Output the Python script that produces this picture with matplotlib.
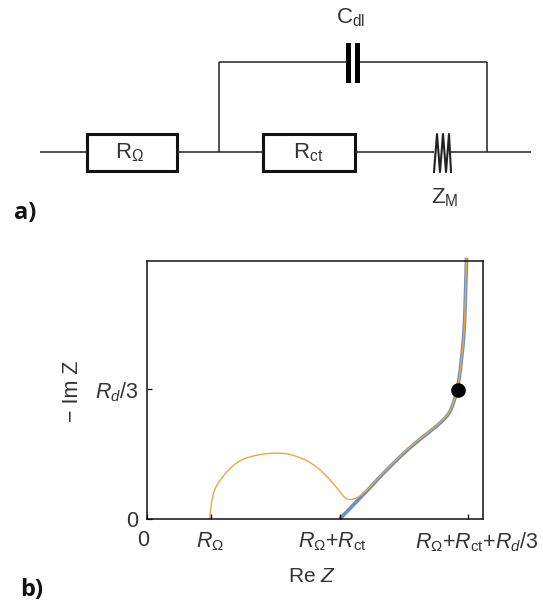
import matplotlib
matplotlib.use("Agg")
import matplotlib.pyplot as plt
from matplotlib.patches import Rectangle, PathPatch
from matplotlib.path import Path
from matplotlib.transforms import ScaledTranslation

plt.rcParams['font.family'] = ['Liberation Sans', 'DejaVu Sans']
plt.rcParams['mathtext.fontset'] = 'custom'
plt.rcParams['mathtext.rm'] = 'Liberation Sans'
plt.rcParams['mathtext.it'] = 'Liberation Sans:italic'
plt.rcParams['mathtext.bf'] = 'Liberation Sans:bold'

# nyquist curve, units: R_ohm = 1, R_ct = 2, R_d/3 = 2
re_z = [0.99, 1.00, 1.02, 1.07, 1.17, 1.33, 1.51, 1.72, 1.93, 2.13, 2.29, 2.50, 2.68,
        2.84, 3.00, 3.10, 3.19, 3.31, 3.49, 3.60, 3.86, 4.12, 4.38, 4.59,
        4.72, 4.79, 4.85, 4.89, 4.92, 4.96, 4.985, 5.00]
im_z = [0.00, 0.12, 0.27, 0.46, 0.62, 0.80, 0.92, 0.98, 1.01, 1.01, 0.98, 0.90, 0.78,
        0.63, 0.45, 0.33, 0.30, 0.34, 0.49, 0.61, 0.87, 1.11, 1.32, 1.49,
        1.63, 1.78, 1.98, 2.20, 2.45, 2.86, 3.48, 4.02]

# blue curve has no semicircle
re_z_blue = [3.02, 3.49, 3.60, 3.86, 4.12, 4.38, 4.59, 4.72, 4.79, 4.85, 4.89, 4.92, 4.96, 4.985, 5.00]
im_z_blue = [0.00, 0.48, 0.60, 0.86, 1.10, 1.31, 1.48, 1.62, 1.77, 1.98, 2.20, 2.45, 2.86, 3.48, 4.02]

dot_x = [4.86]
dot_y = [1.98]

x_ticks = [0, 1, 3.02, 5.03]
x_labels = ['0', r'$R_{\mathrm{Ω}}$', r'$R_{\mathrm{Ω}}$+$R_{\mathrm{ct}}$',
            r'$R_{\mathrm{Ω}}$+$R_{\mathrm{ct}}$+$R_{d}$/3']
# the labels are not centred on their ticks in the original, pixels
x_label_shift = [-3, 0, -7, 8]
y_ticks = [0, 2]
y_labels = ['0', r'$R_{d}$/3']

# circuit schematic, in pixels of the picture
wires = [([40, 87], [152, 152]), ([177, 263], [152, 152]), ([355, 434], [152, 152]),
         ([451, 531], [152, 152]), ([219, 219], [152, 62]), ([219, 347], [62, 62]),
         ([360, 487], [62, 62]), ([487, 487], [62, 152])]
boxes = [(87, 134, 90, 37), (263, 134, 92, 37)]
plates = [(346, 43, 5, 40), (355, 43, 5, 40)]
zigzag_x = [434, 437, 440, 443, 446, 449, 451]
zigzag_y = [172, 134, 172, 134, 172, 134, 172]


# smooth line through the read points, drawn as a bezier path
def smooth_path(xs, ys):
    pts = list(zip(xs, ys))
    verts = [pts[0]]
    codes = [Path.MOVETO]
    for i in range(len(pts) - 1):
        p0 = pts[max(i - 1, 0)]
        p1 = pts[i]
        p2 = pts[i + 1]
        p3 = pts[min(i + 2, len(pts) - 1)]
        c1 = (p1[0] + (p2[0] - p0[0]) / 6, p1[1] + (p2[1] - p0[1]) / 6)
        c2 = (p2[0] - (p3[0] - p1[0]) / 6, p2[1] - (p3[1] - p1[1]) / 6)
        verts += [c1, c2, p2]
        codes += [Path.CURVE4, Path.CURVE4, Path.CURVE4]
    return Path(verts, codes)


W, H = 543, 602
fig = plt.figure(figsize=(W / 100, H / 100), dpi=100)

# overlay for the schematic
sk = fig.add_axes([0, 0, 1, 1])
sk.set_xlim(0, W)
sk.set_ylim(H, 0)
sk.axis('off')

for wx, wy in wires:
    sk.plot(wx, wy, color='#222222', lw=1.1, solid_capstyle='butt')
for b in boxes:
    sk.add_patch(Rectangle(b[:2], b[2], b[3], fc='white', ec='#111111', lw=2.2))
for p in plates:
    sk.add_patch(Rectangle(p[:2], p[2], p[3], fc='black', ec='none'))
sk.plot(zigzag_x, zigzag_y, color='#222222', lw=1.5)

sk.text(351, 18, r'C$_{\mathrm{dl}}$', ha='center', va='center', fontsize=16, color='#333333')
sk.text(130, 153, r'R$_{\mathrm{Ω}}$', ha='center', va='center', fontsize=16, color='#333333')
sk.text(308, 153, r'R$_{\mathrm{ct}}$', ha='center', va='center', fontsize=16, color='#333333')
sk.text(445, 198, r'Z$_{\mathrm{M}}$', ha='center', va='center', fontsize=16, color='#333333')
sk.text(14, 213, 'a)', ha='left', va='center', fontsize=17, fontweight='bold',
        family=['Open Sans', 'DejaVu Sans'], color='#111111')
sk.text(20, 590, 'b)', ha='left', va='center', fontsize=17, fontweight='bold',
        family=['Open Sans', 'DejaVu Sans'], color='#111111')

# nyquist plot
ax = fig.add_axes([146.5 / W, 1 - 519 / H, 336 / W, 258 / H])
ax.set_xlim(0, 5.25)
ax.set_ylim(0, 3.97)
ax.add_patch(PathPatch(smooth_path(re_z_blue, im_z_blue), fc='none', ec='#6a8fc8', lw=2.6,
                       clip_on=False, capstyle='butt'))
ax.add_patch(PathPatch(smooth_path(re_z, im_z), fc='none', ec='#e8a840', lw=1.0, clip_on=False))
ax.plot(dot_x, dot_y, 'o', color='black', ms=9.5, clip_on=False, zorder=5)

ax.set_xticks(x_ticks)
ax.set_xticklabels(x_labels, fontsize=15.5, color='#333333')
ax.set_yticks(y_ticks)
ax.set_yticklabels(y_labels, fontsize=15.5, color='#333333')
ax.tick_params(direction='in', length=3.5, width=0.9, pad=6)
ax.tick_params(axis='x', pad=8)
for s in ax.spines.values():
    s.set_linewidth(1.1)
    s.set_color('#111111')

for lab, dx in zip(ax.get_xticklabels(), x_label_shift):
    lab.set_transform(lab.get_transform() + ScaledTranslation(dx / 100, 0, fig.dpi_scale_trans))

ax.set_xlabel(r'Re $Z$', fontsize=15, color='#333333')
ax.xaxis.set_label_coords((312 - 146.5) / 336, -(576 - 519) / 258, transform=ax.transAxes)
ax.xaxis.label.set_va('center')
ax.set_ylabel('− Im Z', fontsize=15.5, color='#333333')
ax.yaxis.set_label_coords((72 - 146.5) / 336, (519 - 391) / 258, transform=ax.transAxes)
ax.yaxis.label.set_va('center')

fig.savefig('out.png', dpi=100)
